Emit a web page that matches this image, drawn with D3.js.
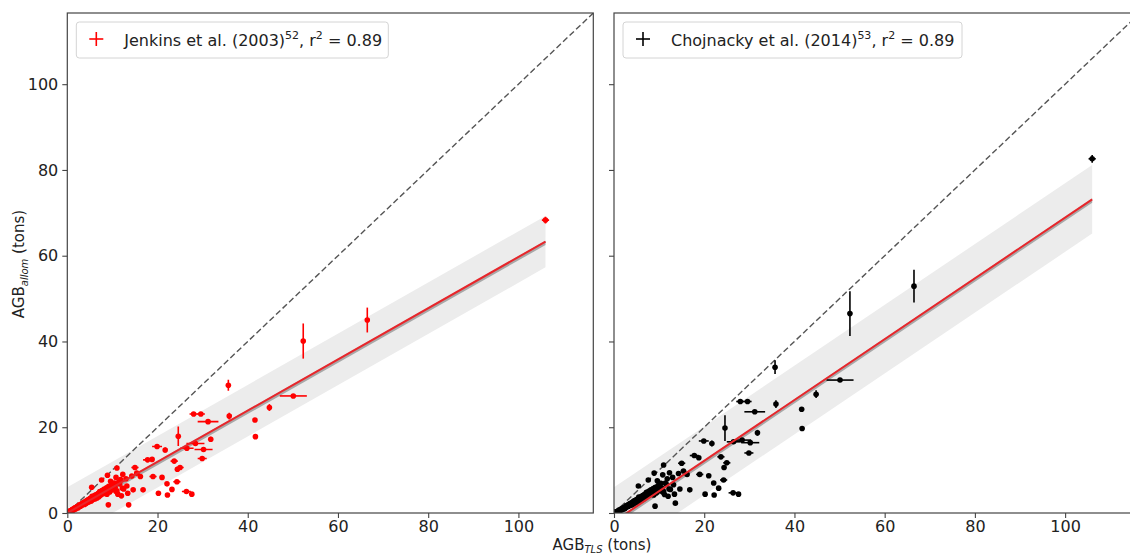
<!DOCTYPE html>
<html>
<head>
<meta charset="utf-8">
<script src="https://cdn.jsdelivr.net/npm/d3@7"></script>
<style>
  body { margin: 0; background: #fff; }
  text { font-family: "DejaVu Sans", sans-serif; fill: #222; }
</style>
</head>
<body>
<div id="chart"></div>
<script>
// AGB from TLS (x) and the two allometric estimates (y), one entry per tree
const tlsAGB = [106.0, 66.5, 52.3, 50.1, 44.8, 41.6, 41.7, 35.7, 35.9, 28.0,
  29.6, 31.2, 24.6, 31.8, 19.9, 21.7, 26.5, 28.4, 30.2, 29.9,
  17.8, 18.8, 23.7, 25.0, 24.4, 15.0, 11.0, 10.8, 14.3, 15.4,
  16.2, 19.0, 21.0, 24.3, 22.1, 23.2, 20.2, 22.2, 26.4, 27.6,
  13.2, 14.6, 16.8, 13.6, 9.1, 7.6, 5.4, 8.9, 9.6, 12.3,
  13.0, 11.8,
  0.3, 0.5, 0.7, 0.9, 1.0, 1.2, 1.3, 1.5, 1.6, 1.8,
  2.0, 2.1, 2.3, 2.5, 2.6, 2.8, 3.0, 3.1, 3.3, 3.5,
  3.6, 3.8, 4.0, 4.2, 4.3, 4.5, 4.7, 4.9, 5.0, 5.2,
  5.4, 5.6, 5.8, 6.0, 6.1, 6.3, 6.5, 6.7, 6.9, 7.1,
  7.3, 7.5, 7.7, 8.0, 8.2, 8.4, 8.7, 8.9, 9.2, 9.5,
  9.8, 10.1, 10.4, 10.8, 11.2, 11.6, 12.0, 12.5,
  0.4, 0.6, 0.8, 1.1, 1.4, 1.7, 1.9, 2.2, 2.4, 2.7,
  2.9, 3.2, 3.4, 3.7, 3.9, 4.1, 4.4, 4.6, 4.8, 5.1,
  5.3, 5.5, 5.7, 5.9, 6.2, 6.4, 6.6, 6.8, 7.0, 7.2,
  7.4, 7.8, 8.1, 8.5, 8.8, 9.0, 9.4, 9.7, 10.0, 10.6,
  11.0, 11.4, 12.2, 13.4];
const tlsErr = [0.8, 0.3, 0.3, 3.0, 0.3, 0.2, 0.2, 0.2, 0.2, 0.9,
  0.9, 2.3, 0.2, 0.2, 1.1, 0.3, 1.5, 2.0, 2.0, 1.0,
  1.0, 0.3, 0.8, 0.8, 0.3, 0.8, 0.3, 0.3, 0.3, 0.6,
  0.3, 0.8, 0.3, 0.8, 0.3, 0.3, 0.3, 0.3, 1.0, 0.5,
  0.3, 0.3, 0.5, 0.3, 0.3, 0.3, 0.3, 0.3, 0.3, 0.3,
  0.3, 0.3,
  0.2, 0.2, 0.2, 0.2, 0.2, 0.2, 0.2, 0.2, 0.2, 0.2,
  0.2, 0.2, 0.2, 0.2, 0.2, 0.2, 0.2, 0.2, 0.2, 0.2,
  0.2, 0.2, 0.2, 0.2, 0.2, 0.2, 0.2, 0.2, 0.2, 0.2,
  0.2, 0.2, 0.2, 0.2, 0.2, 0.2, 0.2, 0.2, 0.2, 0.2,
  0.2, 0.2, 0.2, 0.2, 0.2, 0.2, 0.2, 0.2, 0.2, 0.2,
  0.2, 0.2, 0.2, 0.2, 0.2, 0.2, 0.2, 0.2,
  0.2, 0.2, 0.2, 0.2, 0.2, 0.2, 0.2, 0.2, 0.2, 0.2,
  0.2, 0.2, 0.2, 0.2, 0.2, 0.2, 0.2, 0.2, 0.2, 0.2,
  0.2, 0.2, 0.2, 0.2, 0.2, 0.2, 0.2, 0.2, 0.2, 0.2,
  0.2, 0.2, 0.2, 0.2, 0.2, 0.2, 0.2, 0.2, 0.2, 0.2,
  0.2, 0.2, 0.2, 0.2];
const jenkinsAGB = [68.3, 45.0, 40.1, 27.3, 24.6, 21.7, 17.8, 29.8, 22.6, 23.1,
  23.1, 21.3, 17.9, 17.2, 15.5, 14.7, 15.1, 16.2, 14.8, 12.7,
  12.4, 12.5, 12.1, 10.6, 10.2, 10.6, 10.5, 8.3, 8.6, 9.3,
  8.5, 8.5, 8.3, 7.3, 6.8, 5.5, 4.6, 4.2, 5.0, 4.4,
  6.3, 5.4, 5.4, 1.9, 1.9, 7.7, 6.0, 8.8, 7.4, 9.0,
  8.0, 7.8,
  0.2, 0.3, 0.5, 0.5, 0.7, 0.6, 0.9, 0.8, 1.1, 1.0,
  1.2, 1.4, 1.3, 1.6, 1.5, 1.8, 1.7, 2.1, 1.9, 2.2,
  2.4, 2.0, 2.6, 2.3, 2.9, 2.5, 3.0, 2.7, 3.3, 2.9,
  3.5, 3.1, 3.8, 3.4, 4.1, 3.6, 4.3, 3.9, 4.6, 4.0,
  4.9, 4.3, 5.2, 4.5, 5.6, 4.8, 5.9, 5.1, 6.2, 5.3,
  6.6, 5.6, 7.0, 5.0, 4.4, 6.8, 4.0, 5.6,
  0.4, 0.4, 0.6, 0.8, 0.8, 1.2, 1.0, 1.5, 1.2, 1.9,
  1.6, 1.8, 2.3, 2.1, 2.6, 2.2, 2.7, 3.1, 2.6, 3.4,
  2.8, 3.9, 3.2, 3.7, 3.3, 4.2, 3.5, 4.5, 3.8, 5.0,
  4.2, 5.3, 4.6, 5.5, 4.4, 6.0, 4.9, 6.3, 5.4, 6.0,
  5.2, 7.2, 5.8, 4.6];
const jenkinsErr = [0.8, 2.9, 4.1, 0.4, 0.8, 0.4, 0.3, 1.3, 0.8, 0.3,
  0.3, 0.3, 2.3, 0.6, 0.3, 0.6, 0.3, 0.3, 0.3, 0.3,
  0.3, 0.3, 0.3, 0.3, 0.3, 0.3, 0.3, 0.3, 0.3, 0.3,
  0.3, 0.3, 0.3, 0.3, 0.3, 0.3, 0.3, 0.3, 0.3, 0.3,
  0.3, 0.3, 0.3, 0.3, 0.3, 0.3, 0.3, 0.3, 0.3, 0.3,
  0.3, 0.3,
  0.2, 0.2, 0.2, 0.2, 0.2, 0.2, 0.2, 0.2, 0.2, 0.2,
  0.2, 0.2, 0.2, 0.2, 0.2, 0.2, 0.2, 0.2, 0.2, 0.2,
  0.2, 0.2, 0.2, 0.2, 0.2, 0.2, 0.2, 0.2, 0.2, 0.2,
  0.2, 0.2, 0.2, 0.2, 0.2, 0.2, 0.2, 0.2, 0.2, 0.2,
  0.2, 0.2, 0.2, 0.2, 0.2, 0.2, 0.2, 0.2, 0.2, 0.2,
  0.2, 0.2, 0.2, 0.2, 0.2, 0.2, 0.2, 0.2,
  0.2, 0.2, 0.2, 0.2, 0.2, 0.2, 0.2, 0.2, 0.2, 0.2,
  0.2, 0.2, 0.2, 0.2, 0.2, 0.2, 0.2, 0.2, 0.2, 0.2,
  0.2, 0.2, 0.2, 0.2, 0.2, 0.2, 0.2, 0.2, 0.2, 0.2,
  0.2, 0.2, 0.2, 0.2, 0.2, 0.2, 0.2, 0.2, 0.2, 0.2,
  0.2, 0.2, 0.2, 0.2];
const chojnackyAGB = [82.6, 52.9, 46.5, 31.0, 27.7, 24.2, 19.7, 34.0, 25.4, 26.0,
  26.0, 23.6, 19.8, 18.7, 16.8, 16.2, 16.6, 17.0, 16.4, 14.0,
  13.4, 12.9, 13.1, 11.7, 10.6, 11.6, 11.2, 8.9, 9.2, 9.8,
  9.0, 9.0, 8.7, 7.7, 7.0, 5.8, 4.4, 4.2, 4.7, 4.4,
  6.6, 5.6, 5.4, 2.3, 1.6, 7.7, 6.3, 9.3, 7.5, 9.4,
  8.3, 8.0,
  0.1, 0.2, 0.3, 0.4, 0.5, 0.5, 0.7, 0.7, 0.9, 0.9,
  1.0, 1.2, 1.1, 1.4, 1.3, 1.6, 1.5, 1.9, 1.7, 2.0,
  2.2, 1.8, 2.4, 2.1, 2.7, 2.3, 2.8, 2.5, 3.1, 2.7,
  3.3, 2.9, 3.6, 3.2, 3.9, 3.4, 4.1, 3.7, 4.4, 3.8,
  4.7, 4.1, 5.0, 4.3, 5.4, 4.6, 5.7, 4.9, 6.0, 5.1,
  6.4, 5.4, 6.9, 4.9, 4.3, 6.7, 3.9, 5.5,
  0.3, 0.3, 0.4, 0.7, 0.6, 1.0, 0.8, 1.3, 1.0, 1.7,
  1.4, 1.6, 2.1, 1.9, 2.4, 2.0, 2.5, 2.9, 2.4, 3.2,
  2.6, 3.7, 3.0, 3.5, 3.1, 4.0, 3.3, 4.3, 3.6, 4.8,
  4.0, 5.1, 4.4, 5.3, 4.2, 5.8, 4.7, 6.1, 5.2, 5.8,
  5.0, 7.0, 5.6, 4.4];
const chojnackyErr = [0.9, 3.8, 5.2, 0.4, 0.9, 0.5, 0.4, 1.6, 0.9, 0.3,
  0.3, 0.3, 3.0, 0.7, 0.3, 0.7, 0.3, 0.3, 0.3, 0.3,
  0.3, 0.3, 0.3, 0.3, 0.3, 0.3, 0.3, 0.3, 0.3, 0.3,
  0.3, 0.3, 0.3, 0.3, 0.3, 0.3, 0.3, 0.3, 0.3, 0.3,
  0.3, 0.3, 0.3, 0.3, 0.3, 0.3, 0.3, 0.3, 0.3, 0.3,
  0.3, 0.3,
  0.2, 0.2, 0.2, 0.2, 0.2, 0.2, 0.2, 0.2, 0.2, 0.2,
  0.2, 0.2, 0.2, 0.2, 0.2, 0.2, 0.2, 0.2, 0.2, 0.2,
  0.2, 0.2, 0.2, 0.2, 0.2, 0.2, 0.2, 0.2, 0.2, 0.2,
  0.2, 0.2, 0.2, 0.2, 0.2, 0.2, 0.2, 0.2, 0.2, 0.2,
  0.2, 0.2, 0.2, 0.2, 0.2, 0.2, 0.2, 0.2, 0.2, 0.2,
  0.2, 0.2, 0.2, 0.2, 0.2, 0.2, 0.2, 0.2,
  0.2, 0.2, 0.2, 0.2, 0.2, 0.2, 0.2, 0.2, 0.2, 0.2,
  0.2, 0.2, 0.2, 0.2, 0.2, 0.2, 0.2, 0.2, 0.2, 0.2,
  0.2, 0.2, 0.2, 0.2, 0.2, 0.2, 0.2, 0.2, 0.2, 0.2,
  0.2, 0.2, 0.2, 0.2, 0.2, 0.2, 0.2, 0.2, 0.2, 0.2,
  0.2, 0.2, 0.2, 0.2];

// regression fits: [intercept, slope], bands: [confidence, prediction] half widths
const fitJenkins = [0.0, 0.597];
const fitChojnacky = [-2.0, 0.709];
const bandJenkins = [0.5, 6.0];
const bandChojnacky = [0.5, 8.0];
const fitRange = [0, 106];

const xTicks = [0, 20, 40, 60, 80, 100];
const yTicks = [0, 20, 40, 60, 80, 100];
const axisMax = 116.6;

var width = 526, height = 500;

var svg = d3.select("#chart")
  .append("svg")
  .attr("width", 1130)
  .attr("height", 555);

var x = d3.scaleLinear().domain([0, axisMax]).range([0, width]);
var y = d3.scaleLinear().domain([0, axisMax]).range([height, 0]);

function drawPanel(left, yVals, yErrs, fit, band, color, legendW, legendBits, showLabels, id) {
  var g = svg.append("g").attr("transform", "translate(" + left + ",13)");

  g.append("clipPath").attr("id", id)
    .append("rect").attr("width", width).attr("height", height);

  var plot = g.append("g").attr("clip-path", "url(#" + id + ")");

  var fx = function (v, off) { return fit[0] + fit[1] * v + off; };
  var xs = [fitRange[0], fitRange[1]];

  // prediction band
  plot.append("path")
    .datum(xs)
    .attr("fill", "#ececec")
    .attr("d", d3.area()
      .x(function (d) { return x(d); })
      .y0(function (d) { return y(fx(d, -band[1])); })
      .y1(function (d) { return y(fx(d, band[1])); }));

  // confidence band
  plot.append("path")
    .datum(xs)
    .attr("fill", "#a8a8a8")
    .attr("d", d3.area()
      .x(function (d) { return x(d); })
      .y0(function (d) { return y(fx(d, -band[0] - 0.3)); })
      .y1(function (d) { return y(fx(d, band[0] - 0.3)); }));

  // 1:1 line
  plot.append("line")
    .attr("x1", x(0)).attr("y1", y(0))
    .attr("x2", x(axisMax)).attr("y2", y(axisMax))
    .attr("stroke", "#555")
    .attr("stroke-width", 1.4)
    .attr("stroke-dasharray", "6,3");

  var pts = d3.range(tlsAGB.length);

  // error bars
  plot.append("g").selectAll("line").data(pts).enter().append("line")
    .attr("x1", function (i) { return x(tlsAGB[i] - tlsErr[i]); })
    .attr("x2", function (i) { return x(tlsAGB[i] + tlsErr[i]); })
    .attr("y1", function (i) { return y(yVals[i]); })
    .attr("y2", function (i) { return y(yVals[i]); })
    .attr("stroke", color).attr("stroke-width", 1.6);
  plot.append("g").selectAll("line").data(pts).enter().append("line")
    .attr("x1", function (i) { return x(tlsAGB[i]); })
    .attr("x2", function (i) { return x(tlsAGB[i]); })
    .attr("y1", function (i) { return y(yVals[i] - yErrs[i]); })
    .attr("y2", function (i) { return y(yVals[i] + yErrs[i]); })
    .attr("stroke", color).attr("stroke-width", 1.6);

  plot.append("g").selectAll("circle").data(pts).enter().append("circle")
    .attr("cx", function (i) { return x(tlsAGB[i]); })
    .attr("cy", function (i) { return y(yVals[i]); })
    .attr("r", 2.8)
    .attr("fill", color);

  // fit line
  plot.append("path")
    .datum(xs)
    .attr("fill", "none")
    .attr("stroke", "#e8262b")
    .attr("stroke-width", 2)
    .attr("d", d3.line()
      .x(function (d) { return x(d); })
      .y(function (d) { return y(fx(d, 0)); }));

  // axes
  var xa = g.append("g")
    .attr("transform", "translate(0," + height + ")")
    .call(d3.axisBottom(x).tickValues(xTicks).tickSize(5).tickPadding(3));
  var ya = g.append("g")
    .call(d3.axisLeft(y).tickValues(yTicks).tickSize(5).tickPadding(4)
      .tickFormat(showLabels ? d3.format("d") : ""));
  [xa, ya].forEach(function (a) {
    a.select(".domain").remove();
    a.selectAll("line").attr("stroke", "#444").attr("stroke-width", 1.1);
    a.selectAll("text").attr("font-size", 16).attr("fill", "#222")
      .attr("font-family", "DejaVu Sans, sans-serif");
  });

  g.append("rect")
    .attr("width", width).attr("height", height)
    .attr("fill", "none").attr("stroke", "#444").attr("stroke-width", 1.2);

  // legend
  var lg = g.append("g").attr("transform", "translate(9,9)");
  lg.append("rect")
    .attr("width", legendW).attr("height", 36).attr("rx", 3)
    .attr("fill", "#fff").attr("fill-opacity", 0.85)
    .attr("stroke", "#d4d4d4");
  lg.append("line").attr("x1", 13).attr("x2", 27).attr("y1", 17).attr("y2", 17)
    .attr("stroke", color).attr("stroke-width", 1.6);
  lg.append("line").attr("x1", 20).attr("x2", 20).attr("y1", 10).attr("y2", 24)
    .attr("stroke", color).attr("stroke-width", 1.6);
  var t = lg.append("text").attr("x", 48).attr("y", 24).attr("font-size", 16);
  t.append("tspan").text(legendBits[0]);
  t.append("tspan").attr("font-size", 11).attr("dy", -7).text(legendBits[1]);
  t.append("tspan").attr("dy", 7).text(", r");
  t.append("tspan").attr("font-size", 11).attr("dy", -7).text("2");
  t.append("tspan").attr("dy", 7).text(" = " + legendBits[2]);
}

drawPanel(67.3, jenkinsAGB, jenkinsErr, fitJenkins, bandJenkins, "#ff0000", 312,
  ["Jenkins et al. (2003)", "52", "0.89"], true, "clipL");
drawPanel(614, chojnackyAGB, chojnackyErr, fitChojnacky, bandChojnacky, "#000", 339,
  ["Chojnacky et al. (2014)", "53", "0.89"], false, "clipR");

// axis titles
var yl = svg.append("text")
  .attr("transform", "translate(24,264) rotate(-90)")
  .attr("text-anchor", "middle")
  .attr("font-size", 15);
yl.append("tspan").text("AGB");
yl.append("tspan").attr("font-size", 10).attr("font-style", "italic").attr("dy", 4).text("allom");
yl.append("tspan").attr("dy", -4).text(" (tons)");

var xl = svg.append("text")
  .attr("x", 602).attr("y", 550)
  .attr("text-anchor", "middle")
  .attr("font-size", 15);
xl.append("tspan").text("AGB");
xl.append("tspan").attr("font-size", 10).attr("font-style", "italic").attr("dy", 3).text("TLS");
xl.append("tspan").attr("dy", -3).text(" (tons)");
</script>
</body>
</html>
